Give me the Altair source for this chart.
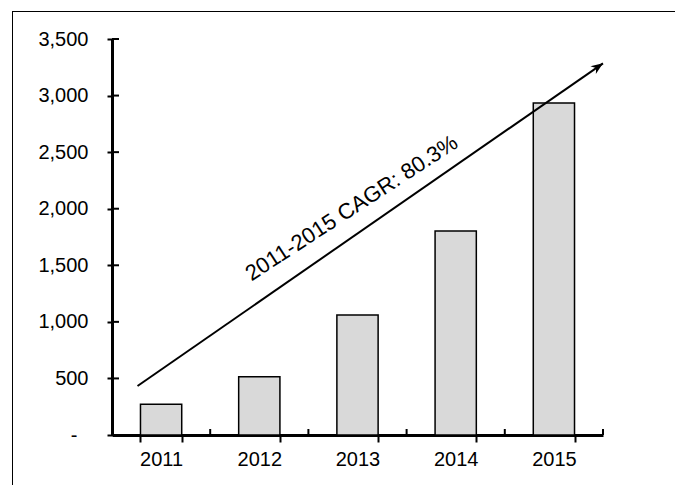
import altair as alt
import pandas as pd

# Yearly totals
years = ["2011", "2012", "2013", "2014", "2015"]
values = [272, 515, 1060, 1802, 2935]
y_ticks = [0, 500, 1000, 1500, 2000, 2500, 3000, 3500]

# Growth annotation (x in band-index units, y in value units)
cagr_label = "2011-2015 CAGR: 80.3%"
arrow_x = [0.26, 5.0]
arrow_y = [433, 3285]
label_x = [2.44]
label_y = [2006]
band_edges = [0, 1, 2, 3, 4, 5]

W, H = 491, 396
FONT = "Liberation Sans"

bars_df = pd.DataFrame({"year": years, "value": values})
arrow_df = pd.DataFrame({"i": arrow_x, "value": arrow_y})
head_df = arrow_df.tail(1)
label_df = pd.DataFrame({"i": label_x, "value": label_y, "text": [cagr_label]})
edges_df = pd.DataFrame({"i": band_edges})
yt_df = pd.DataFrame({"value": y_ticks})

y_scale = alt.Scale(domain=[0, 3500], nice=False)
idx_scale = alt.Scale(domain=[0, 5], nice=False, zero=False)

# accounting-style labels: zero shown as a dash, set further left
y_axis = alt.Axis(values=y_ticks, grid=False, domainWidth=3,
                  domainColor="black", tickSize=5, tickWidth=2,
                  tickColor="black", labelFont=FONT, labelFontSize=20,
                  labelColor="black",
                  labelPadding={"condition": {"test": "datum.value == 0", "value": 30},
                                "value": 19},
                  labelExpr="datum.value == 0 ? '-' : format(datum.value, ',')")


def yenc():
    return alt.Y("value:Q", title=None, scale=y_scale, axis=y_axis)


bars = alt.Chart(bars_df).mark_bar(
    fill="#d9d9d9", stroke="black", strokeWidth=1.5
).encode(
    x=alt.X("year:N", title=None,
            scale=alt.Scale(paddingInner=0.58, paddingOuter=0.29),
            axis=alt.Axis(labelAngle=0, domainWidth=3, domainColor="black",
                          tickSize=7, tickWidth=2, tickColor="black",
                          tickBand="extent", labelFont=FONT, labelFontSize=20,
                          labelColor="black", labelPadding=7)),
    y=yenc(),
)

# inner halves of the crossing tick marks
y_inner = alt.Chart(yt_df).mark_rule(color="black", strokeWidth=2).encode(
    y=yenc(),
    x=alt.value(0), x2=alt.value(7),
)
x_inner = alt.Chart(edges_df).mark_rule(color="black", strokeWidth=2).encode(
    x=alt.X("i:Q", scale=idx_scale, axis=None),
    y=alt.value(H), y2=alt.value(H - 6),
)

arrow = alt.Chart(arrow_df).mark_line(color="black", strokeWidth=2).encode(
    x=alt.X("i:Q", scale=idx_scale, axis=None),
    y=yenc(),
)
head = alt.Chart(head_df).mark_point(
    shape="M0,0 L-2,-0.8 L-1.4,0 L-2,0.8 Z", filled=True, color="black",
    opacity=1, size=144, angle=325.3,
).encode(
    x=alt.X("i:Q", scale=idx_scale, axis=None),
    y=yenc(),
)
label = alt.Chart(label_df).mark_text(
    font=FONT, fontSize=22, angle=327, align="center", baseline="middle",
    color="black",
).encode(
    x=alt.X("i:Q", scale=idx_scale, axis=None),
    y=yenc(),
    text="text:N",
)

# outer frame (top and left edges)
frame_top = alt.Chart(bars_df).mark_rule(color="black", strokeWidth=1).encode(
    x=alt.value(-100), x2=alt.value(W + 100), y=alt.value(-27.5)
)
frame_left = alt.Chart(bars_df).mark_rule(color="black", strokeWidth=1).encode(
    x=alt.value(-99.5), y=alt.value(-28), y2=alt.value(H + 60)
)

chart = alt.layer(
    frame_top, frame_left, bars, y_inner, x_inner, arrow, head, label
).resolve_scale(x="independent").properties(
    width=W, height=H,
    autosize=alt.AutoSizeParams(type="none"),
    padding={"left": 112, "top": 39, "right": 72, "bottom": 50},
    view=alt.ViewBackground(stroke="transparent", strokeWidth=0),
).configure_view(stroke="transparent", strokeWidth=0).configure(background="white")

chart.save("out.html", embed_options={"renderer": "svg", "actions": False})
